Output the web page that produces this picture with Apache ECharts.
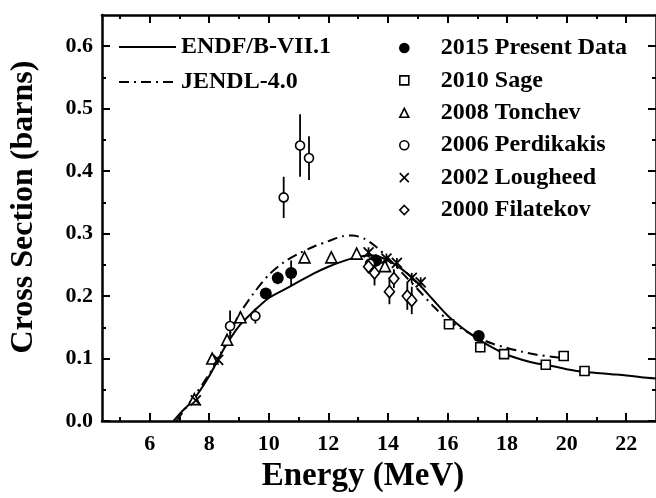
<!DOCTYPE html>
<html>
<head>
<meta charset="utf-8">
<script src="https://cdn.jsdelivr.net/npm/echarts@6/dist/echarts.min.js"></script>
<style>
  html, body { margin: 0; background: #fff; }
  #chart { width: 656px; height: 498px; }
</style>
</head>
<body>
<div id="chart"></div>
<script>
// evaluated curves [energy MeV, cross section b]
const endfCurve = [
  [6.8, 0.0], [7.0, 0.011], [7.5, 0.036], [8.0, 0.072], [8.5, 0.116], [9.0, 0.152],
  [9.5, 0.176], [10.0, 0.197], [10.5, 0.21], [11.0, 0.223], [11.5, 0.236], [12.0, 0.247],
  [12.5, 0.256], [13.0, 0.263], [13.5, 0.265], [14.0, 0.257], [14.5, 0.242], [15.0, 0.221],
  [15.5, 0.195], [16.0, 0.169], [16.5, 0.149], [17.0, 0.132], [17.5, 0.118], [18.0, 0.106],
  [18.5, 0.098], [19.0, 0.092], [19.5, 0.088], [20.0, 0.083], [20.5, 0.079], [21.0, 0.077],
  [21.5, 0.075], [22.0, 0.073], [22.5, 0.07], [23.0, 0.068]
]
const jendlCurve = [
  [6.9, 0.0], [7.5, 0.04], [8.0, 0.075], [8.3, 0.1], [8.7, 0.14], [9.0, 0.17],
  [9.5, 0.205], [10.0, 0.234], [10.5, 0.254], [11.0, 0.268], [11.5, 0.279], [12.0, 0.288],
  [12.5, 0.296], [12.8, 0.297], [13.2, 0.292], [13.6, 0.279], [14.0, 0.261], [14.5, 0.236],
  [15.0, 0.211], [15.5, 0.185], [16.0, 0.162], [16.5, 0.147], [17.0, 0.134], [17.5, 0.124],
  [18.0, 0.117], [18.5, 0.111], [19.0, 0.106], [19.5, 0.103], [20.0, 0.1]
]

// measurements [energy, cross section, uncertainty]
const present2015 = [
  [9.9, 0.204, 0.008], [10.3, 0.229, 0.01], [10.75, 0.237, 0.02], [13.6, 0.257, 0.01], [17.05, 0.136, 0.006]
]
const sage2010 = [
  [16.05, 0.155, 0.005], [17.1, 0.118, 0.008], [17.9, 0.107, 0.006], [19.3, 0.09, 0.006],
  [19.9, 0.104, 0.007], [20.6, 0.08, 0.004]
]
const tonchev2008 = [
  [7.5, 0.035, 0.006], [8.1, 0.1, 0.005], [8.6, 0.13, 0.006], [9.05, 0.166, 0.006],
  [11.2, 0.262, 0.007], [12.1, 0.262, 0.006], [12.95, 0.268, 0.007], [13.9, 0.248, 0.008]
]
const perdikakis2006 = [
  [8.7, 0.152, 0.025], [9.55, 0.168, 0.012], [10.5, 0.358, 0.033], [11.05, 0.441, 0.05],
  [11.35, 0.421, 0.035], [13.4, 0.252, 0.01]
]
const lougheed2002 = [
  [7.55, 0.033, 0.005], [8.3, 0.098, 0.005], [13.35, 0.27, 0.008], [13.95, 0.26, 0.008],
  [14.3, 0.253, 0.008], [14.8, 0.229, 0.008], [15.1, 0.222, 0.008]
]
const filatekov2000 = [
  [13.35, 0.247, 0.01], [13.55, 0.237, 0.02], [14.05, 0.207, 0.02], [14.2, 0.228, 0.015],
  [14.65, 0.2, 0.022], [14.8, 0.193, 0.022]
]

const xMajorTicks = [6, 8, 10, 12, 14, 16, 18, 20, 22]
const xMinorTicks = [5, 7, 9, 11, 13, 15, 17, 19, 21]
const yMajorTicks = [0, 0.1, 0.2, 0.3, 0.4, 0.5, 0.6]
const yMinorTicks = [0.05, 0.15, 0.25, 0.35, 0.45, 0.55]

const FONT = '"Liberation Serif", "Times New Roman", serif'
const chart = echarts.init(document.getElementById("chart"), null, { renderer: "canvas" })

const frame = { show: true, onZero: false, lineStyle: { color: "#000", width: 2.5 } }
const noLine = { show: false, onZero: false }

const xAxisDef = (position, ticks, len, showLine, showLabels) => ({
  type: "value",
  position,
  min: 4.4,
  max: 23,
  axisLine: showLine ? frame : noLine,
  axisTick: { show: true, inside: true, length: len, customValues: ticks, lineStyle: { color: "#000", width: 2 } },
  axisLabel: showLabels
    ? { show: true, customValues: ticks, margin: 12, color: "#000", fontFamily: FONT, fontWeight: "bold", fontSize: 22 }
    : { show: false },
  splitLine: { show: false },
})

const yAxisDef = (position, ticks, len, showLine, showLabels) => ({
  type: "value",
  position,
  min: 0,
  max: 0.65,
  axisLine: showLine ? frame : noLine,
  axisTick: { show: true, inside: true, length: len, customValues: ticks, lineStyle: { color: "#000", width: 2 } },
  axisLabel: showLabels
    ? {
        show: true, customValues: ticks, margin: 9, color: "#000",
        fontFamily: FONT, fontWeight: "bold", fontSize: 22,
        formatter: (v) => v.toFixed(1),
      }
    : { show: false },
  splitLine: { show: false },
})

const xBottom = xAxisDef("bottom", xMajorTicks, 8, true, true)
xBottom.name = "Energy (MeV)"
xBottom.nameLocation = "middle"
xBottom.nameGap = 39
xBottom.nameTextStyle = { color: "#000", fontFamily: FONT, fontWeight: "bold", fontSize: 33, padding: [0, 32, 0, 0] }

const yLeft = yAxisDef("left", yMajorTicks, 8, true, true)
yLeft.name = "Cross Section (barns)"
yLeft.nameLocation = "middle"
yLeft.nameGap = 62
yLeft.nameTextStyle = { color: "#000", fontFamily: FONT, fontWeight: "bold", fontSize: 32, padding: [0, 0, 0, 22] }

const withErr = [present2015, sage2010, tonchev2008, perdikakis2006, lougheed2002, filatekov2000]
const errorBars = withErr.flatMap((set) => set.map(([e, v, d]) => [e, v - d, v + d]))

const openStyle = { color: "#fff", borderColor: "#000", borderWidth: 1.6, opacity: 1 }
const scatter = (name, data, symbol, size, itemStyle) => ({
  name,
  type: "scatter",
  data: data.map(([e, v]) => [e, v]),
  symbol,
  symbolSize: size,
  itemStyle,
  z: 5,
})

chart.setOption({
  animation: false,
  backgroundColor: "#fff",
  grid: { left: 102, top: 15, width: 558, height: 412, containLabel: false },
  xAxis: [
    xBottom,
    xAxisDef("bottom", xMinorTicks, 4, false, false),
    xAxisDef("top", xMajorTicks, 8, true, false),
    xAxisDef("top", xMinorTicks, 4, false, false),
  ],
  yAxis: [
    yLeft,
    yAxisDef("left", yMinorTicks, 4, false, false),
    yAxisDef("right", yMajorTicks, 8, true, false),
    yAxisDef("right", yMinorTicks, 4, false, false),
  ],
  legend: [
    {
      data: ["ENDF/B-VII.1", "JENDL-4.0"],
      orient: "vertical",
      left: 118,
      top: 35,
      padding: 0,
      itemWidth: 57,
      itemHeight: 14,
      itemGap: 11,
      itemStyle: { color: "transparent", borderWidth: 0, opacity: 0 },
      textStyle: { color: "#000", fontFamily: FONT, fontWeight: "bold", fontSize: 24 },
    },
    {
      data: ["2015 Present Data", "2010 Sage", "2008 Tonchev", "2006 Perdikakis", "2002 Lougheed", "2000 Filatekov"],
      orient: "vertical",
      left: 399,
      top: 36,
      padding: 0,
      itemWidth: 9,
      itemHeight: 9,
      itemGap: 8.4,
      itemStyle: { borderWidth: 1.6, opacity: 1 },
      textStyle: { color: "#000", fontFamily: FONT, fontWeight: "bold", fontSize: 24, padding: [0, 0, 0, 27] },
    },
  ],
  series: [
    {
      name: "ENDF/B-VII.1",
      type: "line",
      data: endfCurve,
      showSymbol: false,
      symbol: "none",
      smooth: 0.3,
      lineStyle: { color: "#000", width: 2 },
      itemStyle: { color: "#000" },
      z: 2,
    },
    {
      name: "JENDL-4.0",
      type: "line",
      data: jendlCurve,
      showSymbol: false,
      symbol: "none",
      smooth: 0.3,
      lineStyle: { color: "#000", width: 2, type: [10, 5, 2, 5] },
      itemStyle: { color: "#000" },
      z: 2,
    },
    {
      type: "custom",
      data: errorBars,
      encode: { x: 0, y: [1, 2] },
      z: 3,
      renderItem: (params, api) => {
        const lo = api.coord([api.value(0), api.value(1)])
        const hi = api.coord([api.value(0), api.value(2)])
        return {
          type: "line",
          shape: { x1: lo[0], y1: lo[1], x2: hi[0], y2: hi[1] },
          style: { stroke: "#000", lineWidth: 1.8 },
        }
      },
    },
    scatter("2015 Present Data", present2015, "circle", 12, { color: "#000", borderColor: "#000", borderWidth: 0, opacity: 1 }),
    scatter("2010 Sage", sage2010, "rect", 9, openStyle),
    scatter("2008 Tonchev", tonchev2008, "triangle", 11, openStyle),
    scatter("2006 Perdikakis", perdikakis2006, "circle", 9, openStyle),
    scatter("2002 Lougheed", lougheed2002, "path://M0,0L10,10M0,10L10,0", 10,
      { color: "transparent", borderColor: "#000", borderWidth: 1.8, opacity: 1 }),
    scatter("2000 Filatekov", filatekov2000, "diamond", [10, 12], openStyle),
  ],
})
</script>
</body>
</html>
